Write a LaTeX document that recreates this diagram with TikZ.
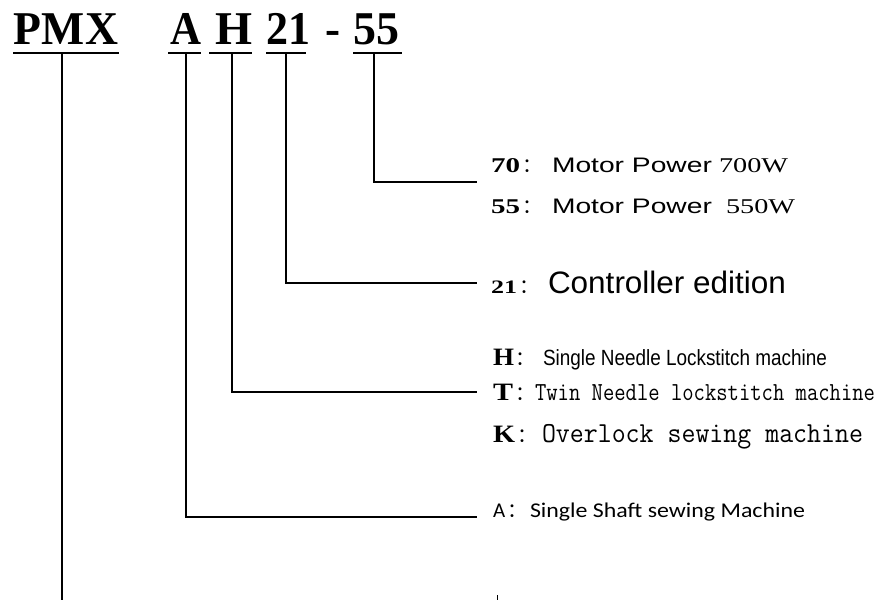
\documentclass[tikz,border=0pt]{standalone}
\usepackage{fontspec}
\usepackage{graphicx}
\setmainfont{Liberation Serif}
\newfontfamily\arialf{Liberation Sans}
\newfontfamily\calf{Carlito}
\newfontfamily\cjkf{Noto Sans CJK SC}
\newcommand{\fitw}[2]{\resizebox{#1}{\height}{#2}}
\newcommand{\fwcolon}[1]{{\cjkf\mdseries\fontsize{#1}{#1}\selectfont ：}}
\begin{document}
\begin{tikzpicture}[x=1pt,y=-1pt,
  txt/.style={anchor=base west,inner sep=0pt,outer sep=0pt},
  code/.style={txt,font=\bfseries\fontsize{47}{47}\selectfont},
  key/.style={txt,font=\bfseries\fontsize{21}{21}\selectfont},
  keyb/.style={txt,font=\bfseries\fontsize{25}{25}\selectfont},
  uline/.style={line width=1.3pt},
  conn/.style={line width=1.3pt,line join=miter}]
\useasboundingbox (0,0) rectangle (886,600);
% title codes
\node[code] (pmx) at (14,44) {\fitw{104pt}{PMX}};
\node[code] (ca) at (170,44) {\fitw{31pt}{A}};
\node[code] (ch) at (215,44) {\fitw{37pt}{H}};
\node[code] (c21) at (266,44) {\fitw{44pt}{21}};
\node[code] (cdash) at (325,44) {\fitw{15pt}{-}};
\node[code] (c55) at (353,44) {\fitw{46pt}{55}};
% underlines
\coordinate (upmxL) at (13,53); \coordinate (upmxR) at (119,53);
\coordinate (uaL) at (168,53); \coordinate (uaR) at (201,53);
\coordinate (uhL) at (209,53); \coordinate (uhR) at (252,53);
\coordinate (u21L) at (266,53); \coordinate (u21R) at (306,53);
\coordinate (u55L) at (353,53); \coordinate (u55R) at (402,53);
\draw[uline] (upmxL) -- (upmxR);
\draw[uline] (uaL) -- (uaR);
\draw[uline] (uhL) -- (uhR);
\draw[uline] (u21L) -- (u21R);
\draw[uline] (u55L) -- (u55R);
% labels: keys
\node[key] (k70) at (491,172) {\fitw{29pt}{70}};
\node[txt] (c70) at (522,172) {\fwcolon{20}};
\node[key] (k55) at (491,213) {\fitw{29pt}{55}};
\node[txt] (c55) at (522,213) {\fwcolon{20}};
\node[txt,font=\bfseries\fontsize{19}{19}\selectfont] (k21) at (491,293) {\fitw{26pt}{21}};
\node[txt] (c21l) at (519,293) {\fwcolon{20}};
\node[keyb] (kh) at (493,365) {\fitw{21pt}{H}};
\node[txt] (chl) at (515,365) {\fwcolon{20}};
\node[keyb] (kt) at (493,400) {\fitw{20pt}{T}};
\node[txt] (ctl) at (515,400) {\fwcolon{20}};
\node[keyb] (kk) at (493,442) {\fitw{22pt}{K}};
\node[txt] (ckl) at (517,442) {\fwcolon{20}};
\node[txt,font=\calf\fontsize{21}{21}\selectfont] (ka) at (493,517) {A};
\node[txt] (cal) at (507,517) {\fwcolon{20}};
% labels: descriptions
\node[txt] (d70) at (552,172) {\fitw{236pt}{\fontsize{21}{21}\selectfont{\arialf Motor Power} 700W}};
\node[txt] (d55) at (552,213) {\fitw{243pt}{\fontsize{21}{21}\selectfont{\arialf Motor Power}\ \ 550W}};
\node[txt] (d21) at (548,293) {\fitw{238pt}{\arialf\fontsize{31}{31}\selectfont Controller edition}};
\node[txt] (dh) at (543,365) {\fitw{284pt}{\arialf\fontsize{22}{22}\selectfont Single Needle Lockstitch machine}};
\node[txt] (dt) at (535,400) {\fitw{340pt}{\ttfamily\fontsize{26}{26}\selectfont Twin Needle lockstitch machine}};
\node[txt] (dk) at (542,442) {\fitw{321pt}{\ttfamily\fontsize{29}{29}\selectfont Overlock sewing machine}};
\node[txt] (da) at (530,517) {\fitw{275pt}{\calf\fontsize{21}{21}\selectfont Single Shaft sewing Machine}};
% connector points
\coordinate (t55) at (374,53);  \coordinate (e55) at (477,182);
\coordinate (t21) at (286,53);  \coordinate (e21) at (477,283);
\coordinate (th) at (232,53);   \coordinate (eh) at (477,392);
\coordinate (ta) at (186,53);   \coordinate (ea) at (477,517);
\coordinate (tpmx) at (62,53);  \coordinate (epmx) at (62,600);
\draw[conn] (t55) |- (e55);
\draw[conn] (t21) |- (e21);
\draw[conn] (th) |- (eh);
\draw[conn] (ta) |- (ea);
\draw[conn] (tpmx) -- (epmx);
\coordinate (m1) at (497,595); \coordinate (m2) at (497,600);
\draw[line width=0.8pt] (m1) -- (m2);
\end{tikzpicture}
\end{document}
